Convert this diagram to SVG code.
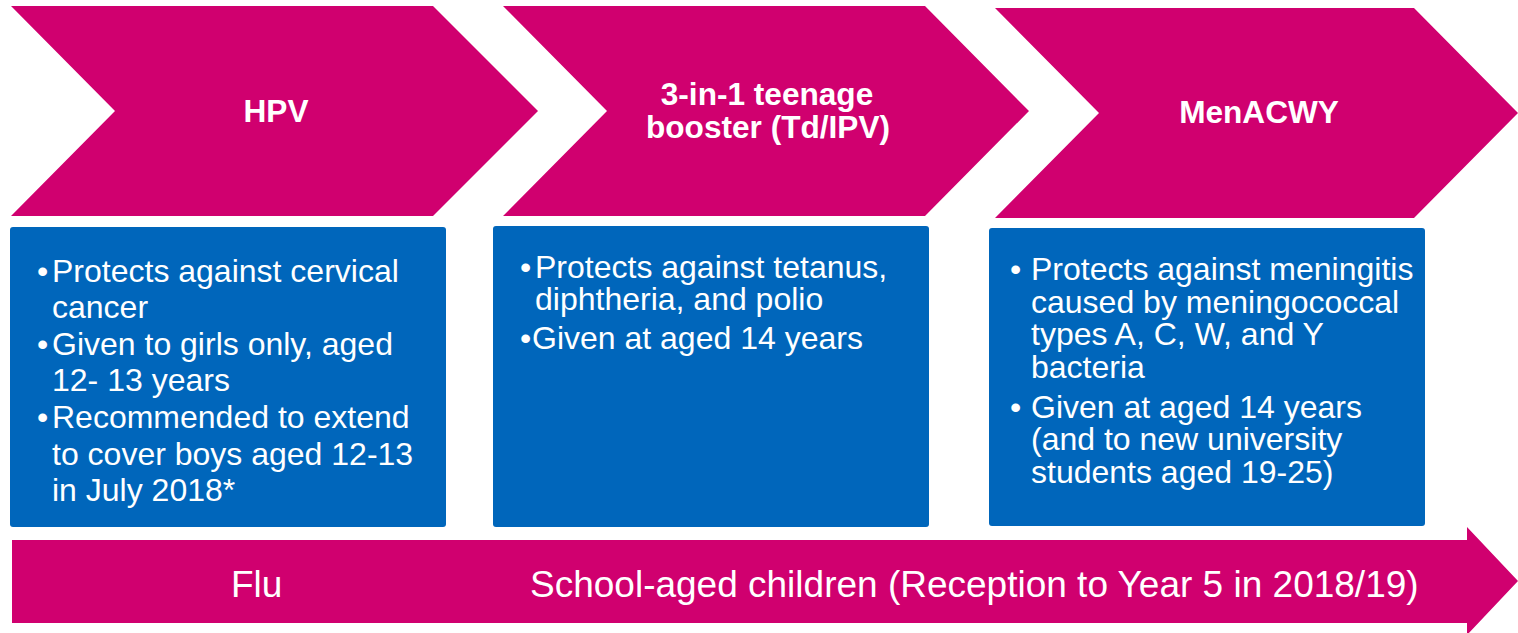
<svg xmlns="http://www.w3.org/2000/svg" width="1518" height="633" viewBox="0 0 1518 633">
<style>
.chev{fill:#D0006F}
.box{fill:#0066BB}
.title{font-family:"Liberation Sans",Arial,sans-serif;font-weight:bold;font-size:31.6px;fill:#FFFFFF;text-anchor:middle}
.body{font-family:"Liberation Sans",Arial,sans-serif;font-size:32px;fill:#FFFFFF}
.flu{font-family:"Liberation Sans",Arial,sans-serif;font-size:37px;fill:#FFFFFF}
</style>
<rect width="1518" height="633" fill="#FFFFFF"/>
<g id="hpv-chevron">
<polygon class="chev" points="11,6 433,6 538,111 433,216 11,216 115,111"/>
<text class="title" x="276" y="122">HPV</text>
</g>
<g id="td-ipv-chevron">
<polygon class="chev" points="503,6 925,6 1029,111 925,216 503,216 607,111"/>
<text class="title" x="767" y="105">3-in-1 teenage</text>
<text class="title" x="768" y="138">booster (Td/IPV)</text>
</g>
<g id="menacwy-chevron">
<polygon class="chev" points="995,8 1414,8 1518,113 1414,218 995,218 1099,113"/>
<text class="title" x="1259" y="123">MenACWY</text>
</g>
<g id="hpv-box">
<rect class="box" x="10" y="227" width="436" height="300" rx="3"/>
<text class="body" x="37" y="282">•</text>
<text class="body" x="52" y="282">Protects against cervical</text>
<text class="body" x="52" y="318">cancer</text>
<text class="body" x="37" y="355">•</text>
<text class="body" x="52" y="355">Given to girls only, aged</text>
<text class="body" x="52" y="391">12- 13 years</text>
<text class="body" x="37" y="428">•</text>
<text class="body" x="52" y="428">Recommended to extend</text>
<text class="body" x="52" y="465">to cover boys aged 12-13</text>
<text class="body" x="52" y="501">in July 2018*</text>
</g>
<g id="td-ipv-box">
<rect class="box" x="493" y="226" width="436" height="301" rx="3"/>
<text class="body" x="520" y="278">•</text>
<text class="body" x="535" y="278">Protects against tetanus,</text>
<text class="body" x="535" y="310">diphtheria, and polio</text>
<text class="body" x="520" y="349">•</text>
<text class="body" x="532" y="349">Given at aged 14 years</text>
</g>
<g id="menacwy-box">
<rect class="box" x="989" y="228" width="436" height="298" rx="3"/>
<text class="body" x="1010" y="280">•</text>
<text class="body" x="1031" y="280">Protects against meningitis</text>
<text class="body" x="1031" y="313">caused by meningococcal</text>
<text class="body" x="1031" y="345">types A, C, W, and Y</text>
<text class="body" x="1031" y="378">bacteria</text>
<text class="body" x="1010" y="418">•</text>
<text class="body" x="1031" y="418">Given at aged 14 years</text>
<text class="body" x="1031" y="450">(and to new university</text>
<text class="body" x="1031" y="483">students aged 19-25)</text>
</g>
<g id="flu-arrow">
<path class="chev" d="M12,540 H1467 V527 L1518,581 L1467,635 V623 H12 Z"/>
<text class="flu" x="231" y="597">Flu</text>
<text class="flu" x="530" y="597">School-aged children (Reception to Year 5 in 2018/19)</text>
</g>
<g id="connectors"/>
</svg>
